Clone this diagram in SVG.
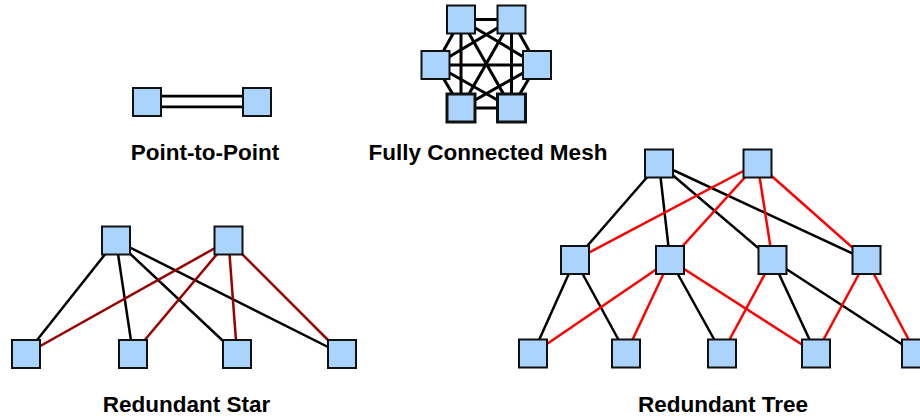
<svg xmlns="http://www.w3.org/2000/svg" width="920" height="416" viewBox="0 0 920 416">
  <style>
    .node { fill: #aad4fc; stroke: #111; stroke-width: 2; }
    .node.heavy { stroke-width: 3; }
    .blk { stroke: #000; stroke-width: 2.5; fill: none; }
    .mesh { stroke: #000; stroke-width: 3; fill: none; }
    .dred { stroke: #990000; stroke-width: 2.5; fill: none; }
    .red { stroke: #ff0000; stroke-width: 2.5; fill: none; }
    .label { font-family: "Liberation Sans", Arial, sans-serif; font-weight: bold; font-size: 22.5px; fill: #000; text-anchor: middle; }
  </style>
  <rect width="920" height="416" fill="#fff"/>

  <!-- connectors -->
  <g id="connectors">
    <!-- point-to-point double link -->
    <line x1="147" y1="101.5" x2="257" y2="101.5" stroke="#000" stroke-width="13.5"/>
    <line x1="147" y1="101.5" x2="257" y2="101.5" stroke="#fff" stroke-width="8"/>

    <!-- full mesh: every pair of the six nodes -->
    <g class="mesh">
      <line x1="461" y1="19.5" x2="511.5" y2="19.5"/>
      <line x1="461" y1="19.5" x2="435.5" y2="65"/>
      <line x1="461" y1="19.5" x2="537" y2="65"/>
      <line x1="461" y1="19.5" x2="461" y2="108"/>
      <line x1="461" y1="19.5" x2="511.5" y2="108"/>
      <line x1="511.5" y1="19.5" x2="435.5" y2="65"/>
      <line x1="511.5" y1="19.5" x2="537" y2="65"/>
      <line x1="511.5" y1="19.5" x2="461" y2="108"/>
      <line x1="511.5" y1="19.5" x2="511.5" y2="108"/>
      <line x1="435.5" y1="65" x2="537" y2="65"/>
      <line x1="435.5" y1="65" x2="461" y2="108"/>
      <line x1="435.5" y1="65" x2="511.5" y2="108"/>
      <line x1="537" y1="65" x2="461" y2="108"/>
      <line x1="537" y1="65" x2="511.5" y2="108"/>
      <line x1="461" y1="108" x2="511.5" y2="108"/>
    </g>

    <!-- redundant star -->
    <g class="blk">
      <line x1="116" y1="240.5" x2="26" y2="354"/>
      <line x1="116" y1="240.5" x2="133" y2="354"/>
      <line x1="116" y1="240.5" x2="237" y2="354"/>
      <line x1="116" y1="240.5" x2="342" y2="354"/>
    </g>
    <g class="dred">
      <line x1="228.5" y1="240.5" x2="26" y2="354"/>
      <line x1="228.5" y1="240.5" x2="133" y2="354"/>
      <line x1="228.5" y1="240.5" x2="237" y2="354"/>
      <line x1="228.5" y1="240.5" x2="342" y2="354"/>
    </g>

    <!-- redundant tree -->
    <g class="blk">
      <line x1="659" y1="163.5" x2="575" y2="260"/>
      <line x1="659" y1="163.5" x2="670" y2="260"/>
      <line x1="659" y1="163.5" x2="772.5" y2="260"/>
      <line x1="659" y1="163.5" x2="866.5" y2="260"/>
      <line x1="575" y1="260" x2="533" y2="353.5"/>
      <line x1="575" y1="260" x2="626" y2="353.5"/>
      <line x1="670" y1="260" x2="722" y2="353.5"/>
      <line x1="772.5" y1="260" x2="816" y2="353.5"/>
      <line x1="772.5" y1="260" x2="916" y2="353.5"/>
    </g>
    <g class="red">
      <line x1="757.5" y1="163.5" x2="575" y2="260"/>
      <line x1="757.5" y1="163.5" x2="670" y2="260"/>
      <line x1="757.5" y1="163.5" x2="772.5" y2="260"/>
      <line x1="757.5" y1="163.5" x2="866.5" y2="260"/>
      <line x1="670" y1="260" x2="533" y2="353.5"/>
      <line x1="670" y1="260" x2="626" y2="353.5"/>
      <line x1="670" y1="260" x2="816" y2="353.5"/>
      <line x1="772.5" y1="260" x2="722" y2="353.5"/>
      <line x1="866.5" y1="260" x2="816" y2="353.5"/>
      <line x1="866.5" y1="260" x2="916" y2="353.5"/>
    </g>
  </g>

  <!-- point-to-point -->
  <g id="p2p-a"><rect class="node" x="133" y="88" width="28" height="28"/></g>
  <g id="p2p-b"><rect class="node" x="243" y="88" width="28" height="28"/></g>

  <!-- full mesh -->
  <g id="mesh-tl"><rect class="node" x="447" y="5.5" width="28" height="28"/></g>
  <g id="mesh-tr"><rect class="node" x="497.5" y="5.5" width="28" height="28"/></g>
  <g id="mesh-l"><rect class="node" x="421.5" y="51" width="28" height="28"/></g>
  <g id="mesh-r"><rect class="node" x="523" y="51" width="28" height="28"/></g>
  <g id="mesh-bl"><rect class="node heavy" x="447" y="94" width="28" height="28"/></g>
  <g id="mesh-br"><rect class="node heavy" x="497.5" y="94" width="28" height="28"/></g>

  <!-- redundant star -->
  <g id="star-hub1"><rect class="node" x="102" y="226.5" width="28" height="28"/></g>
  <g id="star-hub2"><rect class="node" x="214.5" y="226.5" width="28" height="28"/></g>
  <g id="star-leaf1"><rect class="node" x="12" y="340" width="28" height="28"/></g>
  <g id="star-leaf2"><rect class="node" x="119" y="340" width="28" height="28"/></g>
  <g id="star-leaf3"><rect class="node" x="223" y="340" width="28" height="28"/></g>
  <g id="star-leaf4"><rect class="node" x="328" y="340" width="28" height="28"/></g>

  <!-- redundant tree -->
  <g id="tree-root1"><rect class="node" x="645" y="149.5" width="28" height="28"/></g>
  <g id="tree-root2"><rect class="node" x="743.5" y="149.5" width="28" height="28"/></g>
  <g id="tree-mid1"><rect class="node" x="561" y="246" width="28" height="28"/></g>
  <g id="tree-mid2"><rect class="node" x="656" y="246" width="28" height="28"/></g>
  <g id="tree-mid3"><rect class="node" x="758.5" y="246" width="28" height="28"/></g>
  <g id="tree-mid4"><rect class="node" x="852.5" y="246" width="28" height="28"/></g>
  <g id="tree-leaf1"><rect class="node" x="519" y="339.5" width="28" height="28"/></g>
  <g id="tree-leaf2"><rect class="node" x="612" y="339.5" width="28" height="28"/></g>
  <g id="tree-leaf3"><rect class="node" x="708" y="339.5" width="28" height="28"/></g>
  <g id="tree-leaf4"><rect class="node" x="802" y="339.5" width="28" height="28"/></g>
  <g id="tree-leaf5"><rect class="node" x="902" y="339.5" width="28" height="28"/></g>

  <!-- captions -->
  <text class="label" x="205" y="160">Point-to-Point</text>
  <text class="label" x="488" y="160">Fully Connected Mesh</text>
  <text class="label" x="186.5" y="412">Redundant Star</text>
  <text class="label" x="723" y="412">Redundant Tree</text>
</svg>
